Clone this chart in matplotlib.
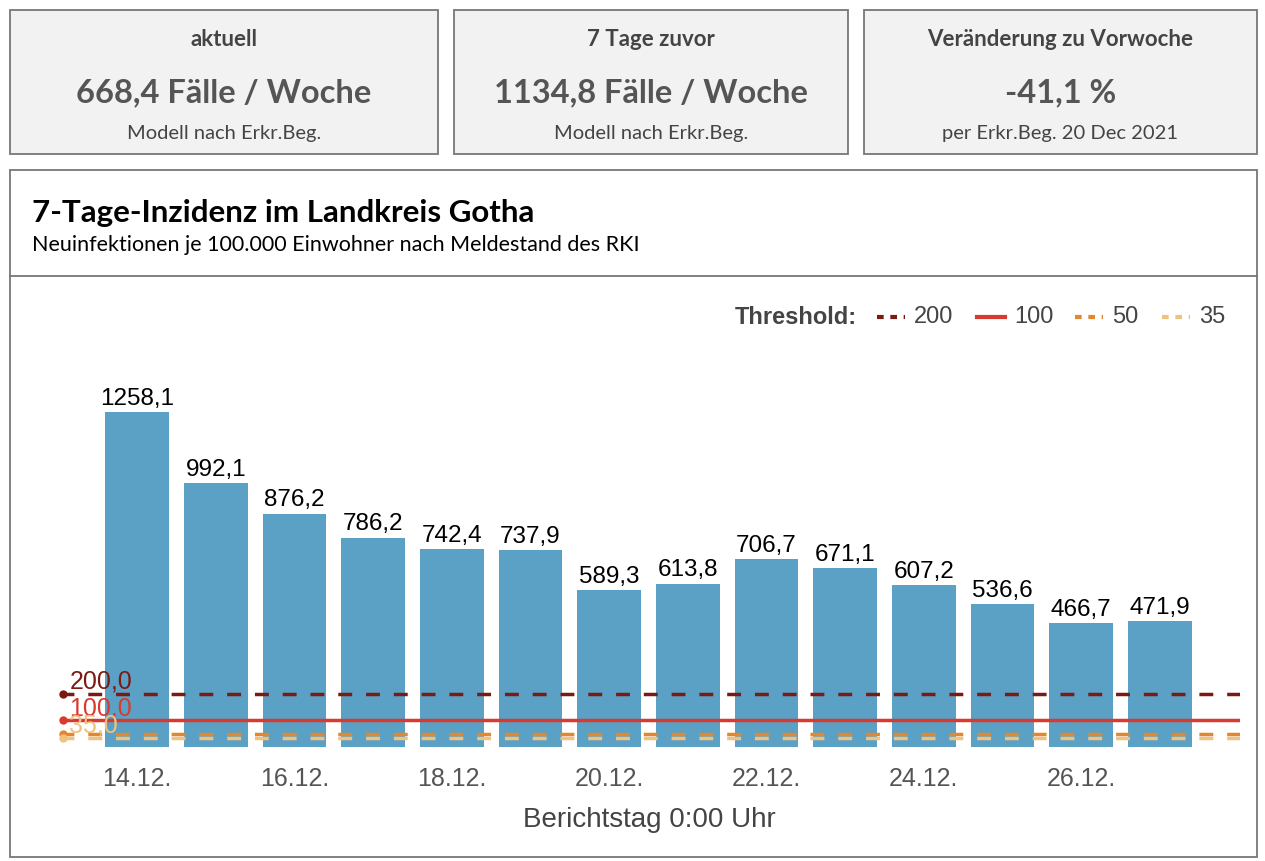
import matplotlib
matplotlib.use("Agg")
import matplotlib.pyplot as plt
from matplotlib.patches import Rectangle
from matplotlib.lines import Line2D

dates = ["14.12.","15.12.","16.12.","17.12.","18.12.","19.12.","20.12.","21.12.","22.12.","23.12.","24.12.","25.12.","26.12.","27.12."]
values = [1258.1,992.1,876.2,786.2,742.4,737.9,589.3,613.8,706.7,671.1,607.2,536.6,466.7,471.9]
thresholds = [200, 100, 50, 35]
th_colors = ["#7b1a14", "#d93a2f", "#e3872f", "#f0c27f"]
th_dashed = [True, False, True, True]
cards = [("aktuell","668,4 Fälle / Woche","Modell nach Erkr.Beg."),
         ("7 Tage zuvor","1134,8 Fälle / Woche","Modell nach Erkr.Beg."),
         ("Veränderung zu Vorwoche","-41,1 %","per Erkr.Beg. 20 Dec 2021")]

W, H = 1265, 862
fig = plt.figure(figsize=(W/100, H/100), dpi=100)

def rect(x0, y0, x1, y1, fc="white", ec="#777777"):
    fig.add_artist(Rectangle((x0/W, 1-y1/H), (x1-x0)/W, (y1-y0)/H, transform=fig.transFigure,
                             fc=fc, ec=ec, lw=1.3, zorder=-5))
def txt(x, y, s, **kw):
    fig.text(x/W, 1-y/H, s, **kw)

card_x = [(10,438),(454,848),(864,1257)]
for (x0,x1),(a,b,c) in zip(card_x, cards):
    rect(x0, 11, x1, 155, fc="#f2f2f2")
    cx = (x0+x1)/2
    txt(cx, 40, a, ha="center", va="center", family="Lato", fontsize=16, fontweight="bold", color="#444444")
    txt(cx, 93, b, ha="center", va="center", family="Lato", fontsize=23.5, fontweight="bold", color="#555555")
    txt(cx, 134, c, ha="center", va="center", family="Lato", fontsize=14.5, color="#444444")

rect(10, 171, 1257, 858)
fig.add_artist(Line2D([10/W, 1257/W], [1-277/H]*2, transform=fig.transFigure, color="#777777", lw=1.3))
txt(32, 213, "7-Tage-Inzidenz im Landkreis Gotha", ha="left", va="center", family="Lato", fontsize=22.5, fontweight="bold", color="black")
txt(32, 245, "Neuinfektionen je 100.000 Einwohner nach Meldestand des RKI", ha="left", va="center", family="Lato", fontsize=15.5, color="black")

ax = fig.add_axes([60/W, 1-748/H, 1180/W, (748-340)/H])
ax.set_zorder(5)
ax.set_facecolor("none")
x = list(range(len(values)))
ax.bar(x, values, width=0.81, color="#5ba1c5", zorder=2)
for xi, v in zip(x, values):
    ax.text(xi, v + 12, f"{v:.1f}".replace(".", ","), ha="center", va="bottom", fontsize=17.5,
            family="Liberation Sans", color="black")
ax.set_xlim(-0.98, 14.02)
ax.set_ylim(0, (748-340)/0.2663)
for t, c, d in zip(thresholds, th_colors, th_dashed):
    ax.axhline(t, color=c, ls=(0, (4, 4)) if d else "-", lw=2.5, zorder=3)
    ax.plot([-0.94], [t], "o", color=c, ms=5, zorder=4, clip_on=False)
    if t != 50:
        ax.text(-0.86, t + 5, f"{t:.1f}".replace(".", ","), color=c, fontsize=18,
                family="Liberation Sans", va="bottom", ha="left", zorder=4)
ax.set_xticks(x[::2])
ax.set_xticklabels(dates[::2], fontsize=18, family="Liberation Sans", color="#555555")
ax.tick_params(axis="x", length=0, pad=14)
ax.set_yticks([])
for s in ax.spines.values():
    s.set_visible(False)
txt(649, 820, "Berichtstag 0:00 Uhr", ha="center", va="center", fontsize=20, family="Liberation Sans", color="#444444")

# legend
txt(857, 318, "Threshold:", ha="right", va="center", fontsize=17, fontweight="bold", family="Liberation Sans", color="#444444")
lx = [877, 977, 1075, 1162]
for xx, t, c, d in zip(lx, thresholds, th_colors, th_dashed):
    fig.add_artist(Line2D([xx/W, (xx+28)/W], [1-318/H]*2, transform=fig.transFigure, color=c,
                          ls=(0, (1.6, 1.6)) if d else "-", lw=3))
    txt(xx+37, 317, str(t), ha="left", va="center", fontsize=17, family="Liberation Sans", color="#444444")

fig.savefig("out.png", dpi=100)
